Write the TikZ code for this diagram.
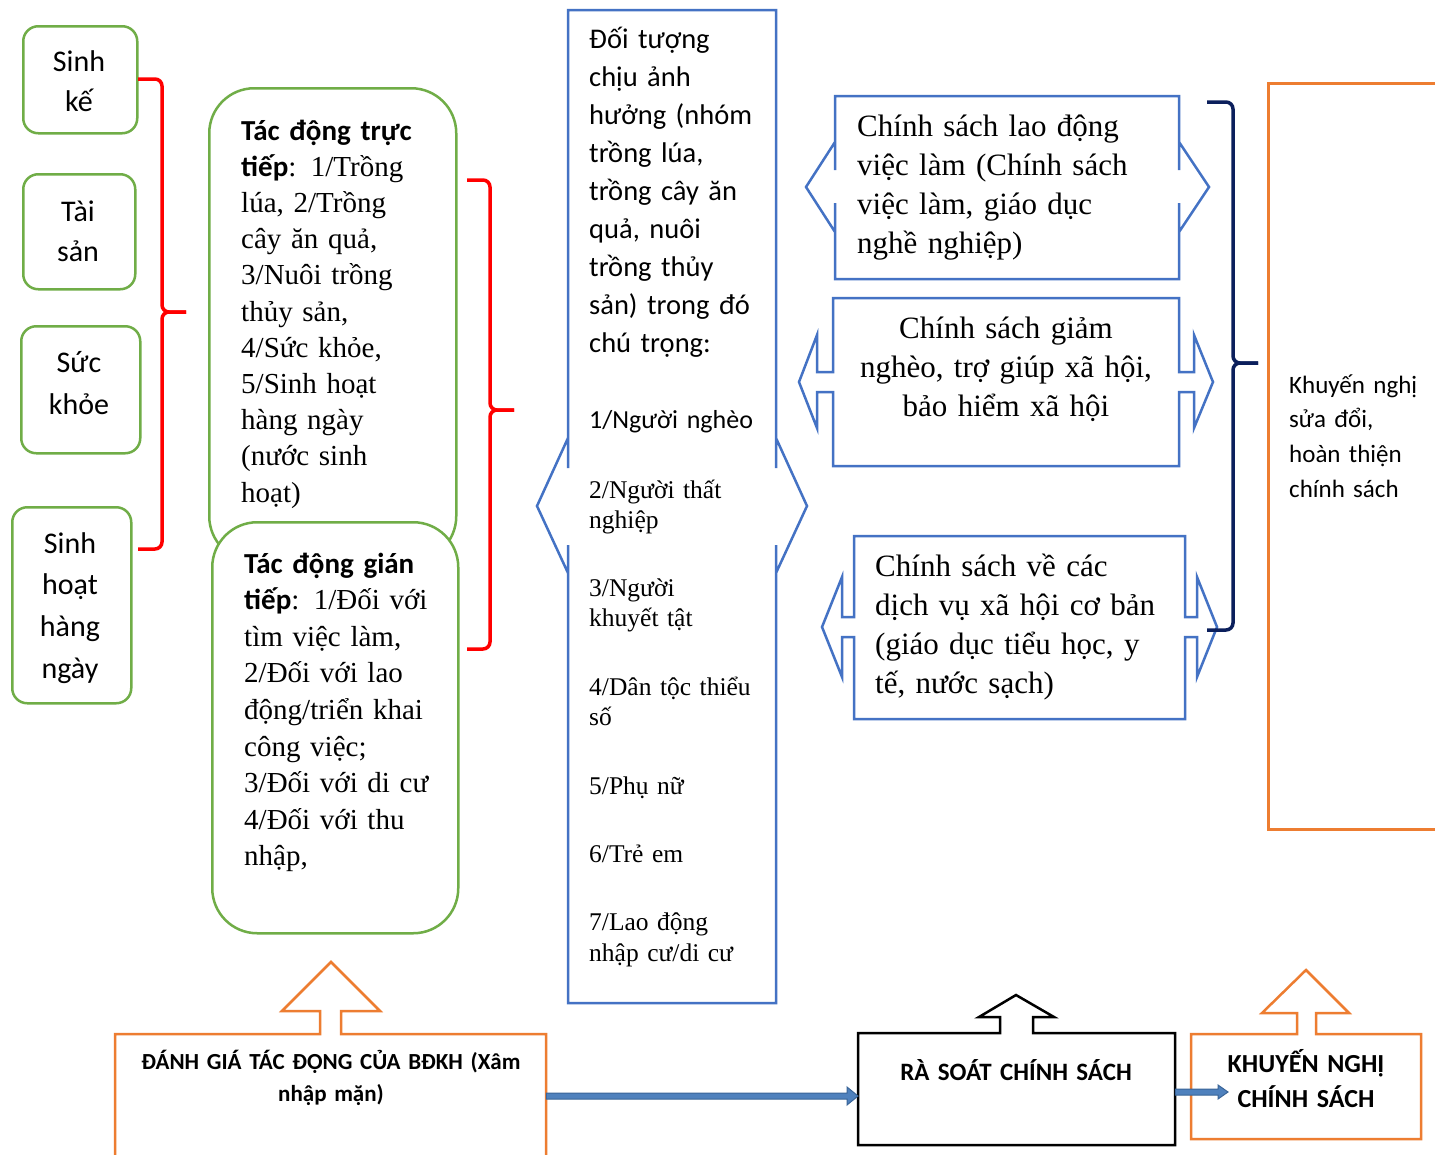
\documentclass[tikz,border=0pt]{standalone}
\usepackage{fontspec}
\setmainfont{Liberation Serif}
\newfontfamily\calf{Carlito}
\usetikzlibrary{calc}
\definecolor{cgreen}{HTML}{70AD47}
\definecolor{cred}{HTML}{FF0000}
\definecolor{cblue}{HTML}{4472C4}
\definecolor{corange}{HTML}{ED7D31}
\definecolor{cnavy}{HTML}{0B1F5C}
\definecolor{afill}{HTML}{4F81BD}
\definecolor{aline}{HTML}{3A6598}
\begin{document}
\begin{tikzpicture}[x=1pt,y=-1pt,
  gbox/.style={draw=cgreen,line width=2.5pt,anchor=north west,inner sep=0pt},
  bracestyle/.style={line width=3.5pt,rounded corners=7pt},
  bluesh/.style={draw=cblue,line width=2.5pt,line join=miter},
  orsh/.style={draw=corange,line width=2.5pt,line join=miter},
  blsh/.style={draw=black,line width=2.5pt,line join=miter},
  frame/.style={anchor=north west,inner sep=0pt,draw=none},
  txt/.style={anchor=base west,inner sep=0pt,align=left},
  ctxt/.style={anchor=base,inner sep=0pt,align=center},
  arr/.style={fill=afill,draw=aline,line width=1pt,line join=miter},
]
\useasboundingbox (0,0) rectangle (1435,1154);
\fill[white] (0,0) rectangle (1435,1154);

% ---------- left green boxes ----------
\node[gbox,rounded corners=15pt,minimum width=114pt,minimum height=107pt] (sinhke) at (22,25) {};
\node[gbox,rounded corners=15pt,minimum width=112pt,minimum height=115pt] (taisan) at (22,173) {};
\node[gbox,rounded corners=15pt,minimum width=119pt,minimum height=127pt] (suckhoe) at (20,325) {};
\node[gbox,rounded corners=15pt,minimum width=119pt,minimum height=196pt] (sinhhoat) at (11,506) {};

\node[ctxt,text width=110pt,font=\calf\fontsize{30}{40}\selectfont] (t-sinhke) at (79,71) {Sinh\\kế};
\node[ctxt,text width=110pt,font=\calf\fontsize{30}{40}\selectfont] (t-taisan) at (78,221) {Tài\\sản};
\node[ctxt,text width=110pt,font=\calf\fontsize{30}{42}\selectfont] (t-suckhoe) at (79,372) {Sức\\khỏe};
\node[ctxt,text width=110pt,font=\calf\fontsize{30}{41.7}\selectfont] (t-sinhhoat) at (70,553) {Sinh\\hoạt\\hàng\\ngày};

% red brace 1
\coordinate (b1top) at (138,79);
\coordinate (b1tip) at (186,312);
\coordinate (b1bot) at (138,549);
\draw[cred,bracestyle] (b1top) -- (162,79) -- (162,312) -- (b1tip);
\draw[cred,bracestyle] (b1tip) -- (162,312) -- (162,549) -- (b1bot);

% ---------- impact boxes ----------
\node[gbox,rounded corners=45pt,minimum width=247pt,minimum height=473pt] (direct) at (208,87) {};
\node[gbox,rounded corners=45pt,minimum width=246pt,minimum height=411pt,fill=white] (indirect) at (211,521) {};

\node[txt,text width=230pt,font=\fontsize{29}{36.2}\selectfont] (t-direct) at (241,140)
 {{\calf\bfseries Tác động trực}\\{\calf\bfseries tiếp}: 1/Trồng\\lúa, 2/Trồng\\cây ăn quả,\\3/Nuôi trồng\\thủy sản,\\4/Sức khỏe,\\5/Sinh hoạt\\hàng ngày\\(nước sinh\\hoạt)};
\node[txt,text width=230pt,font=\fontsize{29}{36.6}\selectfont] (t-indirect) at (244,573)
 {{\calf\bfseries Tác động gián}\\{\calf\bfseries tiếp}: 1/Đối với\\tìm việc làm,\\2/Đối với lao\\động/triển khai\\công việc;\\3/Đối với di cư\\4/Đối với thu\\nhập,};

% red brace 2
\coordinate (b2top) at (467,180);
\coordinate (b2tip) at (514,410);
\coordinate (b2bot) at (467,649);
\draw[cred,bracestyle] (b2top) -- (490,180) -- (490,410) -- (b2tip);
\draw[cred,bracestyle] (b2tip) -- (490,410) -- (490,649) -- (b2bot);

% ---------- middle column ----------
\draw[bluesh] (568,468) -- (568,438) -- (537,506) -- (568,573) -- (568,545) -- (568,1003) -- (776,1003) -- (776,545)
  -- (776,573) -- (807,506) -- (776,438) -- (776,468) -- (776,10) -- (568,10) -- cycle;

\node[txt,text width=185pt,font=\calf\fontsize{28.5}{38.1}\selectfont] (t-group) at (589,48)
 {Đối tượng\\chịu ảnh\\hưởng (nhóm\\trồng lúa,\\trồng cây ăn\\quả, nuôi\\trồng thủy\\sản) trong đó\\chú trọng:};
\node[txt,text width=185pt,font=\calf\fontsize{26}{30}\selectfont] (g1) at (589,428) {1/Người nghèo};
\node[txt,text width=185pt,font=\fontsize{25.5}{30}\selectfont] (g2) at (589,498) {2/Người thất\\nghiệp};
\node[txt,text width=185pt,font=\fontsize{25.5}{30}\selectfont] (g3) at (589,596) {3/Người\\khuyết tật};
\node[txt,text width=185pt,font=\fontsize{25.5}{30}\selectfont] (g4) at (589,695) {4/Dân tộc thiểu\\số};
\node[txt,text width=185pt,font=\fontsize{25.5}{30}\selectfont] (g5) at (589,794) {5/Phụ nữ};
\node[txt,text width=185pt,font=\fontsize{25.5}{30}\selectfont] (g6) at (589,862) {6/Trẻ em};
\node[txt,text width=185pt,font=\fontsize{25.5}{31}\selectfont] (g7) at (589,930) {7/Lao động\\nhập cư/di cư};

% ---------- policy boxes ----------
\draw[bluesh] (835,170) -- (835,142) -- (806,187) -- (835,232) -- (835,203) -- (835,279) -- (1179,279) -- (1179,203)
  -- (1179,232) -- (1209,187) -- (1179,142) -- (1179,170) -- (1179,96) -- (835,96) -- cycle;
\draw[bluesh] (833,298) -- (833,372) -- (817,372) -- (817,335) -- (799,382) -- (817,428) -- (817,392) -- (833,392)
  -- (833,466) -- (1179,466) -- (1179,392) -- (1194,392) -- (1194,428) -- (1213,382) -- (1194,335) -- (1194,372)
  -- (1179,372) -- (1179,298) -- cycle;
\draw[bluesh] (854,536) -- (854,617) -- (842,617) -- (842,577) -- (822,627) -- (842,677) -- (842,637) -- (854,637)
  -- (854,719) -- (1185,719) -- (1185,637) -- (1197,637) -- (1197,677) -- (1217,627) -- (1197,577) -- (1197,617)
  -- (1185,617) -- (1185,536) -- cycle;

\node[txt,text width=330pt,font=\fontsize{31}{39}\selectfont] (p1) at (857,136)
 {Chính sách lao động\\việc làm (Chính sách\\việc làm, giáo dục\\nghề nghiệp)};
\node[ctxt,text width=340pt,font=\fontsize{31}{39}\selectfont] (p2) at (1006,338)
 {Chính sách giảm\\nghèo, trợ giúp xã hội,\\bảo hiểm xã hội};
\node[txt,text width=310pt,font=\fontsize{31}{39.3}\selectfont] (p3) at (875,576)
 {Chính sách về các\\dịch vụ xã hội cơ bản\\(giáo dục tiểu học, y\\tế, nước sạch)};

% navy brace
\coordinate (nbtop) at (1207,102);
\coordinate (nbtip) at (1258,363);
\coordinate (nbbot) at (1207,630);
\draw[cnavy,bracestyle] (nbtop) -- (1233,102) -- (1233,363) -- (nbtip);
\draw[cnavy,bracestyle] (nbtip) -- (1233,363) -- (1233,630) -- (nbbot);

% right orange box
\node[frame,draw=corange,line width=2.5pt,minimum width=220pt,minimum height=746pt] (kngbox) at (1267,82) {};
\node[txt,text width=150pt,font=\calf\fontsize{25}{34.7}\selectfont] (t-kng) at (1289,393)
 {Khuyến nghị\\sửa đổi,\\hoàn thiện\\chính sách};

% ---------- bottom row ----------
\node[frame,minimum width=431pt,minimum height=124pt] (danhgia) at (115,1034) {};
\node[frame,minimum width=317pt,minimum height=112pt] (rasoat) at (858,1033) {};
\node[frame,minimum width=230pt,minimum height=105pt] (khuyennghi) at (1191,1034) {};

\draw[orsh] (115,1170) -- (115,1034) -- (320,1034) -- (320,1011) -- (282,1011) -- (331,962) -- (380,1011) -- (341,1011)
  -- (341,1034) -- (546,1034) -- (546,1170);
\draw[blsh] (858,1033) -- (1000,1033) -- (1000,1017) -- (979,1017) -- (1016,995) -- (1054,1017) -- (1033,1017)
  -- (1033,1033) -- (1175,1033) -- (1175,1145) -- (858,1145) -- cycle;
\draw[orsh] (1191,1034) -- (1297,1034) -- (1297,1013) -- (1262,1013) -- (1306,970) -- (1349,1013) -- (1316,1013)
  -- (1316,1034) -- (1421,1034) -- (1421,1139) -- (1191,1139) -- cycle;

\node[ctxt,text width=420pt,font=\calf\bfseries\fontsize{23}{32}\selectfont] (t-danhgia) at (331,1069)
 {ĐÁNH GIÁ TÁC ĐỘNG CỦA BĐKH (Xâm\\nhập mặn)};
\node[ctxt,text width=300pt,font=\calf\bfseries\fontsize{25}{32}\selectfont] (t-rasoat) at (1016,1080)
 {RÀ SOÁT CHÍNH SÁCH};
\node[ctxt,text width=220pt,font=\calf\bfseries\fontsize{26}{35}\selectfont] (t-khuyennghi) at (1306,1072)
 {KHUYẾN NGHỊ\\CHÍNH SÁCH};

% blue block arrows
\coordinate (ay) at (0,1096);
\coordinate (A1) at (danhgia.east |- ay);
\coordinate (A2) at (rasoat.west |- ay);
\filldraw[arr] ($(A1)+(0,-3)$) -- ($(A2)+(-11,-3)$) -- ($(A2)+(-11,-9)$) -- (A2) -- ($(A2)+(-11,9)$)
  -- ($(A2)+(-11,3)$) -- ($(A1)+(0,3)$) -- cycle;
\coordinate (sy) at (0,1092);
\coordinate (B1) at (rasoat.east |- sy);
\coordinate (B2) at ($(khuyennghi.west |- sy)+(37,0)$);
\filldraw[arr] ($(B1)+(0,-3)$) -- ($(B2)+(-10,-3)$) -- ($(B2)+(-10,-7)$) -- (B2) -- ($(B2)+(-10,7)$)
  -- ($(B2)+(-10,3)$) -- ($(B1)+(0,3)$) -- cycle;
\end{tikzpicture}
\end{document}
